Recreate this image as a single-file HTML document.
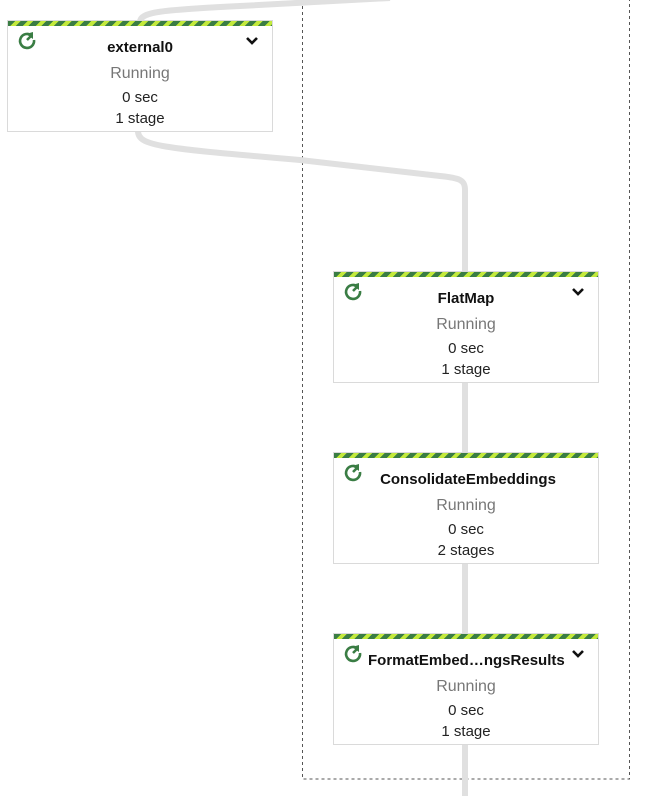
<!DOCTYPE html>
<html><head><style>
body{margin:0;width:650px;height:796px;background:#fff;position:relative;overflow:hidden;font-family:"Liberation Sans",Roboto,sans-serif}
.box{position:absolute;width:266px;height:112px;background:#fff;border:1px solid #dadada;box-sizing:border-box;text-align:center}
.stripe{height:5px;background:repeating-linear-gradient(135deg,#3a7d44 0 5px,#c3ea3b 5px 9px)}
.title{font-weight:bold;font-size:15px;color:#111;margin-top:12px;height:20px;line-height:20px;white-space:nowrap}
.st{color:#777;font-size:16px;line-height:20px;margin-top:6px}
.l{color:#222;font-size:15px;line-height:21px;margin-top:3px}
.l2{color:#222;font-size:15px;line-height:21px}
.icon{position:absolute;left:9px;top:9px}
.chev{position:absolute;right:14px;top:15px}
</style></head><body>
<svg width="650" height="796" style="position:absolute;left:0;top:0">
<rect x="302.5" y="-5" width="327" height="784" fill="none" stroke="#555" stroke-dasharray="3,3" stroke-width="1"/>
<g fill="none" stroke="#e0e0e0" stroke-width="6">
<path d="M140 22 C140 12 160 10 240 6 L390 -2"/>
<path d="M138 131 C138 146 160 148 300 160 L440 176 C460 178 465 180 465 190 L465 272"/>
<path d="M465 382 L465 453"/>
<path d="M465 563 L465 634"/>
<path d="M465 744 L465 796"/>
</g>
</svg>
<div class="box" style="left:7px;top:20px"><div class="stripe"></div>
<svg class="icon" width="20" height="20" viewBox="0 0 20 20"><path d="M14.5 5.5 A7 7 0 1 0 17 10" fill="none" stroke="#3a7d44" stroke-width="2.6"/><path d="M9 4 L16 2 L16 9 Z" fill="#3a7d44"/><path d="M10 10 L14 6" stroke="#3a7d44" stroke-width="2.6"/></svg>
<div class="title">external0</div><div class="st">Running</div><div class="l">0 sec</div><div class="l2">1 stage</div>
<svg class="chev" width="12" height="10"><path d="M1 2 L6 7 L11 2" fill="none" stroke="#111" stroke-width="2.6"/></svg></div>

<div class="box" style="left:333px;top:271px"><div class="stripe"></div>
<svg class="icon" width="20" height="20" viewBox="0 0 20 20"><path d="M14.5 5.5 A7 7 0 1 0 17 10" fill="none" stroke="#3a7d44" stroke-width="2.6"/><path d="M9 4 L16 2 L16 9 Z" fill="#3a7d44"/><path d="M10 10 L14 6" stroke="#3a7d44" stroke-width="2.6"/></svg>
<div class="title">FlatMap</div><div class="st">Running</div><div class="l">0 sec</div><div class="l2">1 stage</div>
<svg class="chev" width="12" height="10"><path d="M1 2 L6 7 L11 2" fill="none" stroke="#111" stroke-width="2.6"/></svg></div>

<div class="box" style="left:333px;top:452px"><div class="stripe"></div>
<svg class="icon" width="20" height="20" viewBox="0 0 20 20"><path d="M14.5 5.5 A7 7 0 1 0 17 10" fill="none" stroke="#3a7d44" stroke-width="2.6"/><path d="M9 4 L16 2 L16 9 Z" fill="#3a7d44"/><path d="M10 10 L14 6" stroke="#3a7d44" stroke-width="2.6"/></svg>
<div class="title" style="padding-left:4px">ConsolidateEmbeddings</div><div class="st">Running</div><div class="l">0 sec</div><div class="l2">2 stages</div></div>

<div class="box" style="left:333px;top:633px"><div class="stripe"></div>
<svg class="icon" width="20" height="20" viewBox="0 0 20 20"><path d="M14.5 5.5 A7 7 0 1 0 17 10" fill="none" stroke="#3a7d44" stroke-width="2.6"/><path d="M9 4 L16 2 L16 9 Z" fill="#3a7d44"/><path d="M10 10 L14 6" stroke="#3a7d44" stroke-width="2.6"/></svg>
<div class="title" style="text-align:left;padding-left:34px">FormatEmbed…ngsResults</div><div class="st">Running</div><div class="l">0 sec</div><div class="l2">1 stage</div>
<svg class="chev" width="12" height="10" style="right:14px"><path d="M1 2 L6 7 L11 2" fill="none" stroke="#111" stroke-width="2.6"/></svg></div>
</body></html>
